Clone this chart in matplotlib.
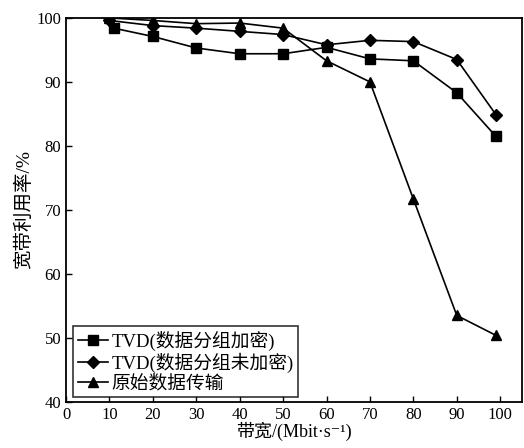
import numpy as np
import matplotlib.pyplot as plt

plt.rcParams['font.family'] = ['Liberation Serif', 'Noto Sans CJK SC', 'DejaVu Serif']

# bandwidth points
x_sq = [11, 20, 30, 40, 50, 60, 70, 80, 90, 99]
x_other = [10, 20, 30, 40, 50, 60, 70, 80, 90, 99]

# utilisation [%]
tvd_enc = [98.4, 97.1, 95.3, 94.4, 94.4, 95.4, 93.6, 93.3, 88.3, 81.5]
tvd_plain = [99.6, 98.8, 98.4, 97.9, 97.4, 95.8, 96.5, 96.3, 93.5, 84.9]
raw = [100.0, 99.6, 99.1, 99.2, 98.4, 93.3, 90.0, 71.7, 53.5, 50.4]

labels = ["TVD(数据分组加密)", "TVD(数据分组未加密)", "原始数据传输"]

fig = plt.figure(figsize=(5.24, 4.48), dpi=100)
ax = fig.add_axes([0.126, 0.103, 0.870, 0.857])

ax.plot(x_sq, tvd_enc, color="k", lw=1.2, marker="s", ms=6.5, label=labels[0])
ax.plot(x_other, tvd_plain, color="k", lw=1.2, marker="D", ms=6, label=labels[1])
ax.plot(x_other, raw, color="k", lw=1.2, marker="^", ms=7, label=labels[2])

ax.set_xlim(0, 105)
ax.set_ylim(40, 100)
ax.set_xticks(np.arange(0, 101, 10))
ax.set_yticks(np.arange(40, 101, 10))
ax.tick_params(direction="in", labelsize=12, length=4, width=1)
for s in ax.spines.values():
    s.set_linewidth(1.3)

ax.set_xlabel("带宽/(Mbit·s⁻¹)", fontsize=13, labelpad=-1)
ax.set_ylabel("宽带利用率/%", fontsize=14, labelpad=2)

leg = ax.legend(loc="lower left", bbox_to_anchor=(0.005, 0.0), fontsize=13.5,
                frameon=True, fancybox=False, edgecolor="k",
                handlelength=1.6, handletextpad=0.2, borderpad=0.25,
                labelspacing=0.1, borderaxespad=0.25)
leg.get_frame().set_linewidth(1.2)

fig.savefig("out.png", dpi=100)
